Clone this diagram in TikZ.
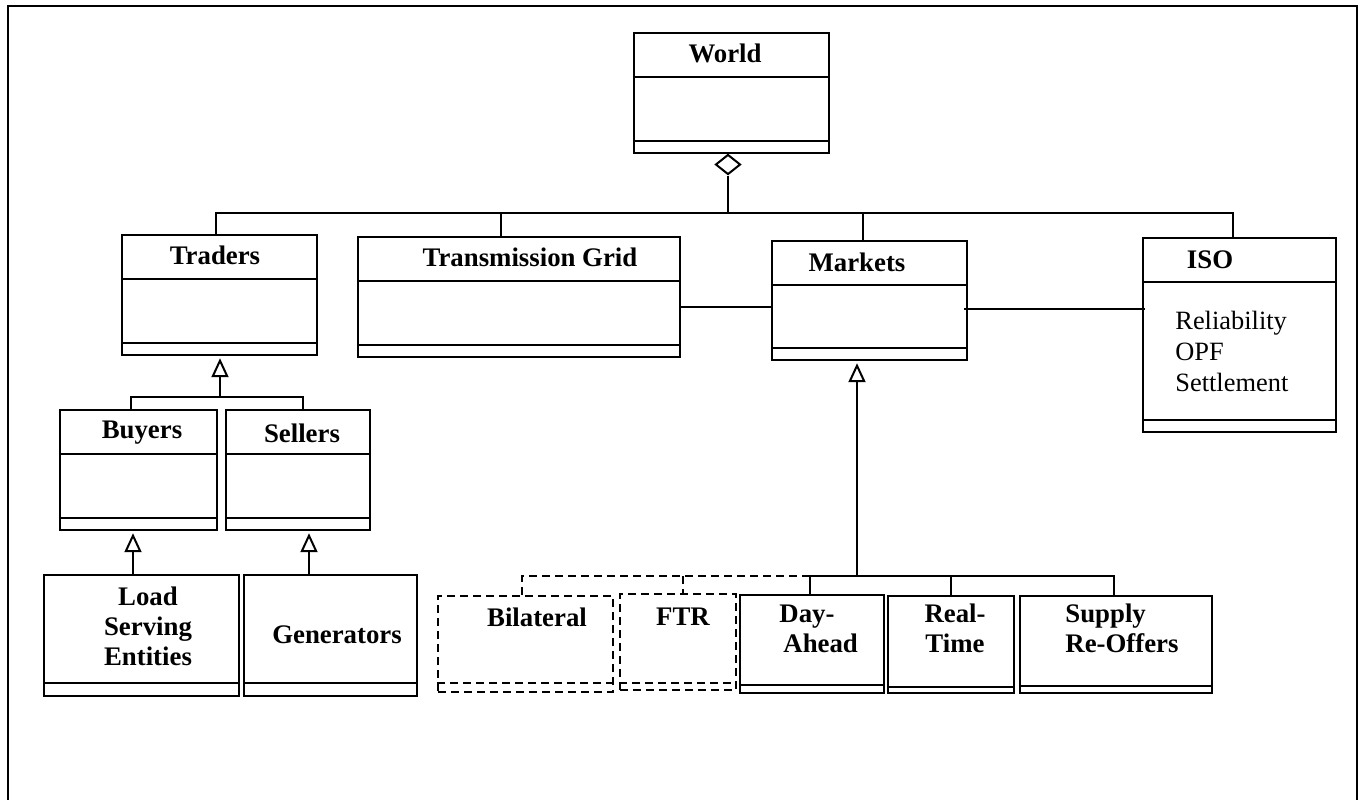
\documentclass[tikz,border=0pt]{standalone}
\usepackage{fontspec}
\setmainfont{Liberation Serif}
\usetikzlibrary{arrows.meta,fit,calc,shapes.geometric}
\tikzset{
  umlbox/.style={draw, line width=1.2pt, inner sep=0pt},
  dashbox/.style={umlbox, dash pattern=on 4pt off 2.5pt},
  divline/.style={line width=1.2pt},
  ddivline/.style={divline, dash pattern=on 4pt off 2.5pt},
  conn/.style={line width=1pt},
  dconn/.style={conn, dash pattern=on 4pt off 2.5pt},
  gen/.style={conn, shorten >=1pt, -{Triangle[open,length=9.5pt,width=8.5pt,line width=1pt]}},
  ttl/.style={font=\fontsize{13.4}{15}\selectfont\bfseries, inner sep=0pt},
  ttlc/.style={ttl, align=center},
  ttll/.style={ttl, align=left, anchor=west},
  attr/.style={font=\fontsize{13.2}{15.5}\selectfont, inner sep=0pt, align=left, anchor=west},
}
\newcommand{\umlclass}[6][umlbox]{\node[#1, fit={(#3,#4)(#5,#6)}] (#2) {};}
\newcommand{\hdiv}[3][divline]{\draw[#1] (#2.west |- 0,#3) -- (#2.east |- 0,#3);}
\begin{document}
\begin{tikzpicture}[x=0.5pt,y=-0.5pt]
\useasboundingbox (0,0) rectangle (1370,799);
% outer frame
\coordinate (fbl) at (8,800);
\coordinate (ftl) at (8,6);
\coordinate (ftr) at (1357,6);
\coordinate (fbr) at (1357,800);
\draw[line width=1pt] (fbl) -- (ftl) -- (ftr) -- (fbr);

% classes
\umlclass{world}{634}{33}{829}{153}
\hdiv{world}{77}\hdiv{world}{141}
\node[ttl] (tworld) at (725,53) {World};

\umlclass{traders}{122}{235}{317}{355}
\hdiv{traders}{279}\hdiv{traders}{343}
\node[ttl] (ttraders) at (215,255) {Traders};

\umlclass{grid}{358}{237}{680}{357}
\hdiv{grid}{281}\hdiv{grid}{345}
\node[ttl] (tgrid) at (530,257) {Transmission Grid};

\umlclass{markets}{772}{241}{967}{360}
\hdiv{markets}{285}\hdiv{markets}{348}
\node[ttl] (tmarkets) at (857,262) {Markets};

\umlclass{iso}{1143}{238}{1336}{432}
\hdiv{iso}{282}\hdiv{iso}{420}
\node[ttl] (tiso) at (1210,260) {ISO};
\node[attr] (aiso) at (1175,351) {Reliability\\OPF\\Settlement};

\umlclass{buyers}{60}{410}{217}{530}
\hdiv{buyers}{454}\hdiv{buyers}{518}
\node[ttl] (tbuyers) at (142,433) {Buyers};

\umlclass{sellers}{226}{410}{370}{530}
\hdiv{sellers}{454}\hdiv{sellers}{518}
\node[ttl] (tsellers) at (302,433) {Sellers};

\umlclass{lse}{44}{575}{239}{696}
\hdiv{lse}{683}
\node[ttlc] (tlse) at (148,626) {Load\\Serving\\Entities};

\umlclass{gens}{244}{575}{417}{696}
\hdiv{gens}{683}
\node[ttl] (tgens) at (337,635) {Generators};

\umlclass[dashbox]{bilat}{438}{596}{613}{692}
\hdiv[ddivline]{bilat}{683}
\node[ttl] (tbilat) at (537,617) {Bilateral};

\umlclass[dashbox]{ftrbox}{620}{594}{736}{690}
\hdiv[ddivline]{ftrbox}{683}
\node[ttl] (tftr) at (683,617) {FTR};

\umlclass{dayahead}{740}{595}{884}{693}
\hdiv{dayahead}{685}
\node[ttll] (tda) at (779,629) {Day-\\\hspace*{2pt}Ahead};

\umlclass{realtime}{888}{596}{1014}{693}
\hdiv{realtime}{687}
\node[ttlc] (trt) at (955,628) {Real-\\Time};

\umlclass{supply}{1020}{596}{1212}{693}
\hdiv{supply}{686}
\node[ttll] (tsu) at (1065,628) {Supply\\Re-Offers};

% aggregation from World
\node[diamond, draw, line width=1pt, minimum width=12.5pt, minimum height=10pt, inner sep=0pt, anchor=north] (agg) at (728,153.5) {};
\coordinate (bT) at (216,213);
\coordinate (bG) at (501,213);
\coordinate (bM) at (863,213);
\coordinate (bI) at (1233,213);
\draw[conn] (agg.south) -- (agg.south |- bT);
\draw[conn] (bT |- traders.north) -- (bT) -- (bI) -- (bI |- iso.north);
\draw[conn] (bG) -- (bG |- grid.north);
\draw[conn] (bM) -- (bM |- markets.north);

% associations
\draw[conn] (grid.east |- 0,307) -- (markets.west |- 0,307);
\draw[conn] ([xshift=-2pt]markets.east |- 0,309) -- ([xshift=1.5pt]iso.west |- 0,309);

% Traders generalization
\coordinate (gT) at (220,397);
\coordinate (bB) at (131,397);
\coordinate (bS) at (303,397);
\draw[gen] (gT) -- (gT |- traders.south);
\draw[conn] (bB |- buyers.north) -- (bB) -- (bS) -- (bS |- sellers.north);

\coordinate (gB) at (133,560);
\coordinate (gS) at (309,560);
\draw[gen] (gB |- lse.north) -- (gB |- buyers.south);
\draw[gen] (gS |- gens.north) -- (gS |- sellers.south);

% Markets generalization
\coordinate (bMk) at (857,576);
\coordinate (bDA) at (810,576);
\coordinate (bRT) at (951,576);
\coordinate (bSU) at (1114,576);
\coordinate (bBL) at (522,576);
\coordinate (bFT) at (683,576);
\draw[gen] (bMk) -- (bMk |- markets.south);
\draw[conn] (bDA |- dayahead.north) -- (bDA) -- (bSU) -- (bSU |- supply.north);
\draw[conn] (bRT) -- (bRT |- realtime.north);
\draw[dconn] (bBL |- bilat.north) -- (bBL) -- (bDA);
\draw[dconn] (bFT) -- (bFT |- ftrbox.north);
\end{tikzpicture}
\end{document}
